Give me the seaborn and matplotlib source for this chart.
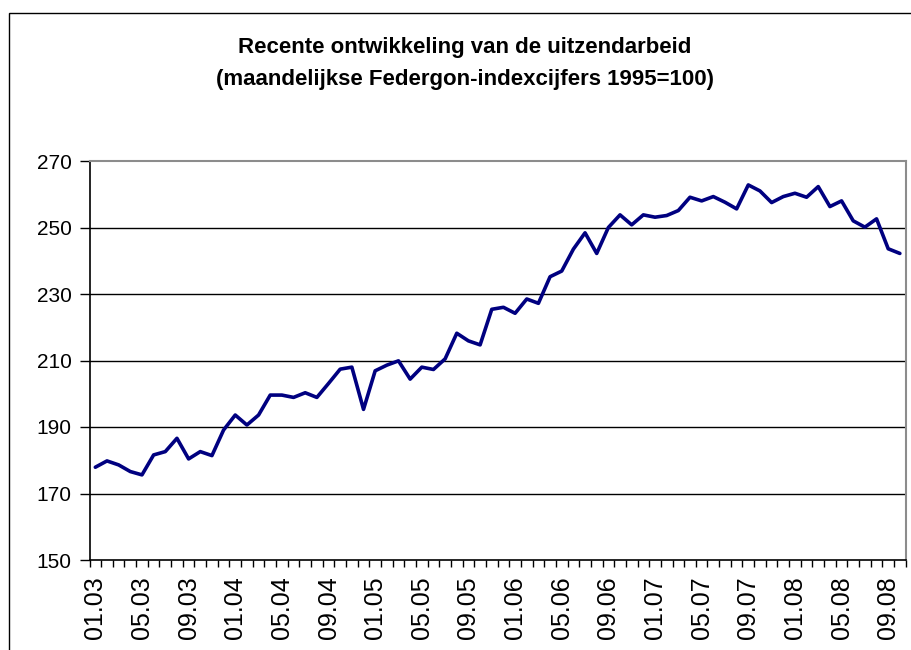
import matplotlib
matplotlib.use("Agg")
import matplotlib.pyplot as plt
from matplotlib.patches import Rectangle
from matplotlib.ticker import FixedLocator
import seaborn as sns
import pandas as pd

# Monthly Federgon index (1995=100), January 2003 - October 2008
months = [f"{m:02d}.{y:02d}" for y in range(3, 9) for m in range(1, 13)][:70]
index_values = [
    177.9, 179.8, 178.6, 176.6, 175.6, 181.6, 182.6, 186.6, 180.4, 182.6, 181.4, 189.1,
    193.6, 190.6, 193.6, 199.6, 199.6, 198.9, 200.3, 198.9, 203.1, 207.4, 208.0, 195.3,
    206.9, 208.6, 209.9, 204.4, 208.0, 207.3, 210.5, 218.2, 215.9, 214.7, 225.4, 226.0,
    224.2, 228.5, 227.2, 235.2, 236.9, 243.5, 248.4, 242.2, 250.0, 253.8, 250.8, 253.8,
    253.1, 253.6, 255.1, 259.1, 258.0, 259.3, 257.6, 255.6, 262.8, 261.0, 257.5, 259.3,
    260.3, 259.1, 262.3, 256.3, 258.0, 252.0, 250.1, 252.6, 243.6, 242.2,
]
y_ticks = [150, 170, 190, 210, 230, 250, 270]
title_lines = [
    "Recente ontwikkeling van de uitzendarbeid",
    "(maandelijkse Federgon-indexcijfers 1995=100)",
]

df = pd.DataFrame({"pos": range(len(months)), "maand": months, "index": index_values})

sns.set_theme(style="white")
plt.rcParams["font.family"] = ["Liberation Sans", "DejaVu Sans"]
plt.rcParams.update({"text.color": "black", "xtick.color": "black",
                     "ytick.color": "black", "axes.labelcolor": "black"})

fig = plt.figure(figsize=(9.11, 6.5), dpi=100)
ax = fig.add_axes([89.5 / 911, 1 - 560 / 650, (905.7 - 89.5) / 911, (560 - 161) / 650])

for yv in y_ticks[1:-1]:
    ax.axhline(yv, color="black", lw=1.0, zorder=1)

sns.lineplot(data=df, x="pos", y="index", color="#000080", lw=2.6, ax=ax, zorder=3)

ax.set_xlim(-0.5, len(months) - 0.5)
ax.set_ylim(150, 270)
ax.set_xlabel("")
ax.set_ylabel("")

# Category labels every four months, boundary tick marks for every month
label_pos = list(range(0, len(months), 4))
ax.xaxis.set_major_locator(FixedLocator(label_pos))
ax.set_xticklabels([months[i] for i in label_pos], rotation=90, fontsize=18, color="black")
ax.xaxis.set_minor_locator(FixedLocator([i - 0.5 for i in range(len(months) + 1)]))
ax.tick_params(axis="x", which="major", length=0, pad=12)
ax.tick_params(axis="x", which="minor", length=5, width=1, color="black", direction="out", bottom=True)

ax.set_yticks(y_ticks)
ax.set_yticklabels([str(v) for v in y_ticks], fontsize=15, color="black")
ax.tick_params(axis="y", which="major", length=7, width=1, color="black", direction="out", left=True, pad=6)

for side in ["left", "bottom"]:
    ax.spines[side].set_color("black")
    ax.spines[side].set_linewidth(1.2)
for side in ["top", "right"]:
    ax.spines[side].set_color("#8c8c8c")
    ax.spines[side].set_linewidth(1.5)

fig.text(465 / 911, 1 - 47 / 650, title_lines[0], ha="center", va="center",
         fontsize=16, fontweight="bold", color="black")
fig.text(465 / 911, 1 - 80 / 650, title_lines[1], ha="center", va="center",
         fontsize=16, fontweight="bold", color="black")

fig.patches.append(Rectangle((9 / 911, -0.1), 1.2, 1 - 13 / 650 + 0.1, transform=fig.transFigure,
                             fill=False, edgecolor="black", lw=1.0))

fig.savefig("out.png", dpi=100, facecolor="white")
